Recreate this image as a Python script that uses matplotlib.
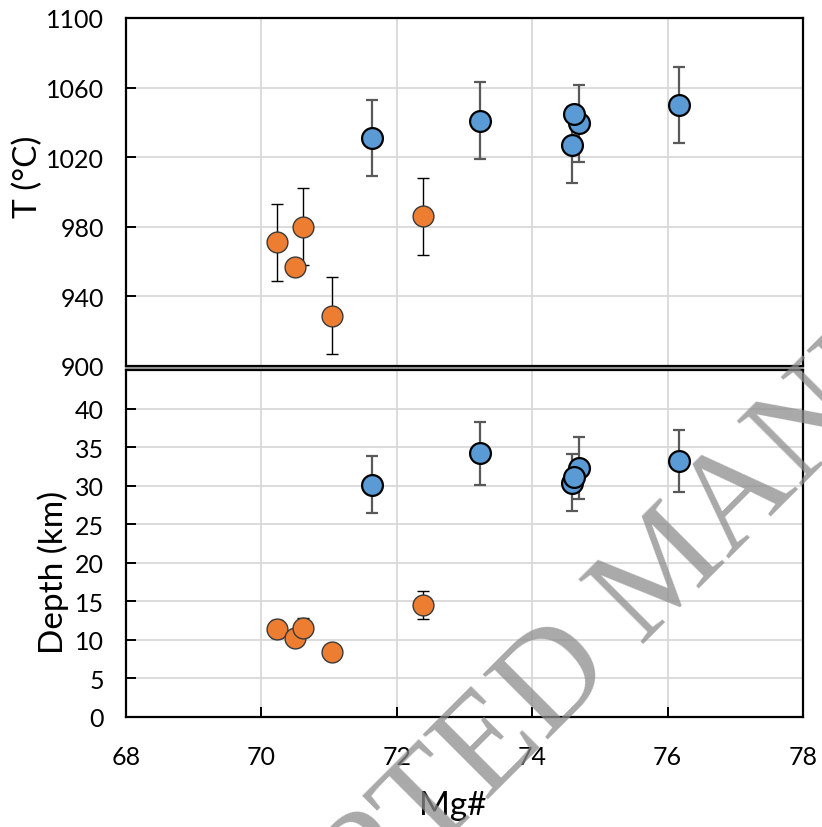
import matplotlib
matplotlib.use("Agg")
import matplotlib.pyplot as plt
from matplotlib.lines import Line2D

plt.rcParams['font.family'] = ['Lato', 'DejaVu Sans']

# orange group
mg_orange = [70.23, 70.50, 70.61, 71.05, 72.38]
t_orange = [971, 957, 980, 929, 986]
t_orange_err = [22, 0, 22, 22, 22]
depth_orange = [11.4, 10.3, 11.6, 8.45, 14.5]
depth_orange_err = [1.2, 0.9, 1.2, 0.8, 1.8]

# blue group
mg_blue = [71.64, 73.23, 74.69, 74.59, 74.62, 76.17]
t_blue = [1031, 1041, 1039.5, 1027, 1045, 1050]
t_blue_err = [22, 22, 22, 22, 0, 22]
depth_blue = [30.1, 34.2, 32.3, 30.4, 31.1, 33.2]
depth_blue_err = [3.7, 4.1, 4.0, 3.7, 0, 4.0]

blue = '#5B9BD5'
orange = '#ED7D31'
grid_c = '#D9D9D9'

fig = plt.figure(figsize=(8.22, 8.28), dpi=100)
ax1 = fig.add_axes([0.1533, 0.5568, 0.8236, 0.4203])
ax2 = fig.add_axes([0.1533, 0.1329, 0.8236, 0.4190])


def draw(ax, yo, yo_err, yb, yb_err):
    ax.errorbar(mg_orange, yo, yerr=yo_err, fmt='none', ecolor='black',
                elinewidth=1.0, capsize=4, capthick=1.0, zorder=3)
    ax.plot(mg_orange, yo, 'o', ms=15, mfc=orange, mec='#3a3a3a', mew=1.0,
            zorder=4, linestyle='none')
    ax.errorbar(mg_blue, yb, yerr=yb_err, fmt='none', ecolor='#595959',
                elinewidth=1.6, capsize=4, capthick=1.6, zorder=3)
    for x, y in zip(mg_blue, yb):
        ax.plot(x, y, 'o', ms=15, mfc=blue, mec='black', mew=1.6, zorder=4)
    ax.set_xlim(68, 78)
    ax.set_xticks([68, 70, 72, 74, 76, 78])
    ax.grid(True, color=grid_c, linewidth=1.3, zorder=0)
    ax.set_axisbelow(True)
    for s in ax.spines.values():
        s.set_linewidth(1.6)
        s.set_color('black')
    ax.tick_params(direction='in', length=7, width=1.4, labelsize=18,
                   pad=16, top=False, right=False)


draw(ax1, t_orange, t_orange_err, t_blue, t_blue_err)
ax1.set_ylim(900, 1100)
ax1.set_yticks(range(900, 1101, 40))
ax1.tick_params(axis='x', labelbottom=False, length=0)
ax1.set_ylabel('T (°C)', fontsize=24)
ax1.yaxis.set_label_coords(-0.123, 0.546)

draw(ax2, depth_orange, depth_orange_err, depth_blue, depth_blue_err)
ax2.set_ylim(0, 45)
ax2.set_yticks(range(0, 41, 5))
ax2.set_ylabel('Depth (km)', fontsize=24)
ax2.yaxis.set_label_coords(-0.084, 0.42)
ax2.set_xlabel('Mg#', fontsize=24)
ax2.xaxis.set_label_coords(0.483, -0.21)
ax2.tick_params(axis='x', pad=20)

# grey seam between the two panels
fig.add_artist(Line2D([126 / 822, 803 / 822], [1 - 368.8 / 828] * 2,
                      color='#909090', linewidth=1.5))

# watermark
fig.text(668 / 822, 1 - 572 / 828, 'ACCEPTED MANUSCRIPT', fontsize=100,
         family='Liberation Serif', color='#8c8c8c', alpha=0.75, rotation=45,
         rotation_mode='anchor', ha='center', va='center', zorder=10)

fig.savefig('out.png', dpi=100)
